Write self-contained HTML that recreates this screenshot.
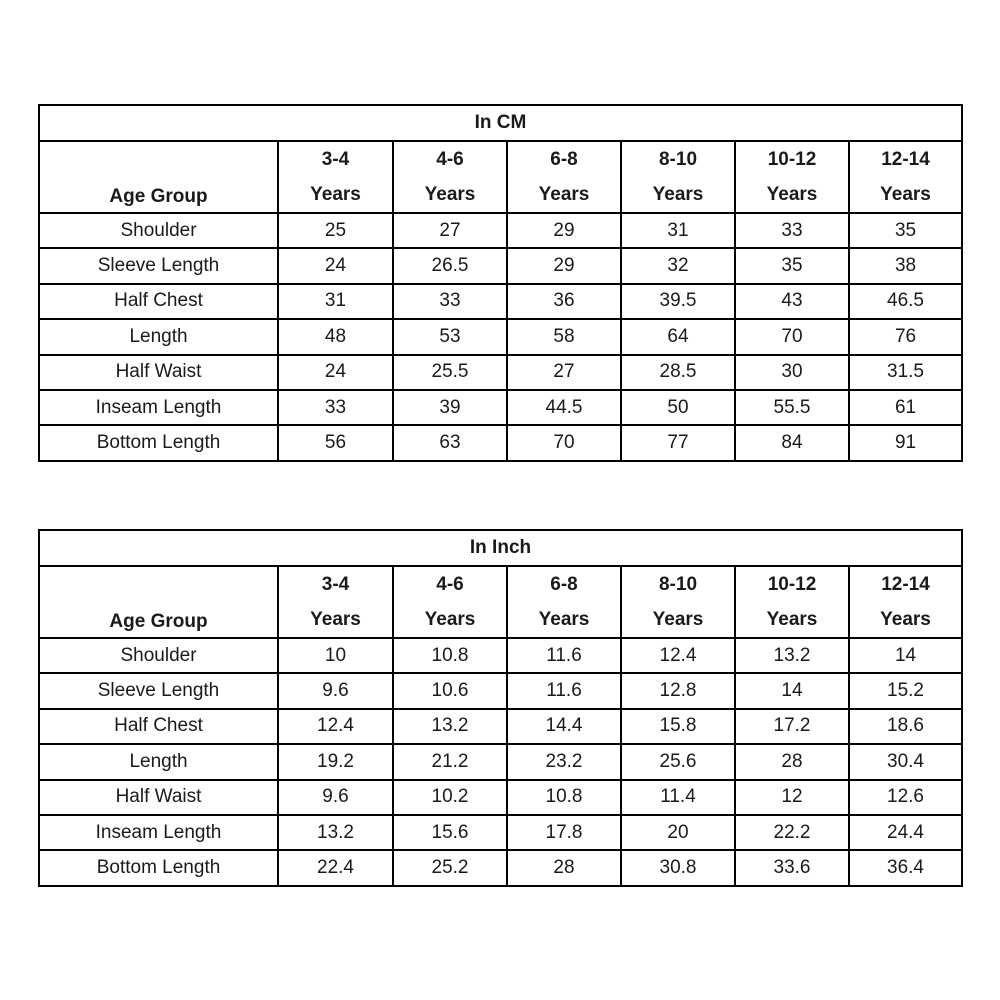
<!DOCTYPE html>
<html><head><style>
body{margin:0;width:1000px;height:1000px;background:#fff;position:relative;font-family:"Liberation Sans",sans-serif;color:#1a1a1a}
table{position:absolute;left:38px;border-collapse:collapse;table-layout:fixed;width:923px}
td{border:2px solid #000;text-align:center;padding:0;font-size:19px;height:33.4px;line-height:20px}
tr.t td{height:34px;font-weight:bold}
tr.h td{height:66px;font-weight:bold;line-height:35px}
tr.h td:first-child{vertical-align:bottom;line-height:30px}
</style></head><body>
<table style="top:104px">
<colgroup><col style="width:239px"><col style="width:115px"><col style="width:114px"><col style="width:114px"><col style="width:114px"><col style="width:114px"><col style="width:113px"></colgroup>
<tr class="t"><td colspan="7">In CM</td></tr>
<tr class="h"><td>Age Group</td><td>3-4<br>Years</td><td>4-6<br>Years</td><td>6-8<br>Years</td><td>8-10<br>Years</td><td>10-12<br>Years</td><td>12-14<br>Years</td></tr>
<tr><td>Shoulder</td><td>25</td><td>27</td><td>29</td><td>31</td><td>33</td><td>35</td></tr>
<tr><td>Sleeve Length</td><td>24</td><td>26.5</td><td>29</td><td>32</td><td>35</td><td>38</td></tr>
<tr><td>Half Chest</td><td>31</td><td>33</td><td>36</td><td>39.5</td><td>43</td><td>46.5</td></tr>
<tr><td>Length</td><td>48</td><td>53</td><td>58</td><td>64</td><td>70</td><td>76</td></tr>
<tr><td>Half Waist</td><td>24</td><td>25.5</td><td>27</td><td>28.5</td><td>30</td><td>31.5</td></tr>
<tr><td>Inseam Length</td><td>33</td><td>39</td><td>44.5</td><td>50</td><td>55.5</td><td>61</td></tr>
<tr><td>Bottom Length</td><td>56</td><td>63</td><td>70</td><td>77</td><td>84</td><td>91</td></tr>
</table>
<table style="top:529px">
<colgroup><col style="width:239px"><col style="width:115px"><col style="width:114px"><col style="width:114px"><col style="width:114px"><col style="width:114px"><col style="width:113px"></colgroup>
<tr class="t"><td colspan="7">In Inch</td></tr>
<tr class="h"><td>Age Group</td><td>3-4<br>Years</td><td>4-6<br>Years</td><td>6-8<br>Years</td><td>8-10<br>Years</td><td>10-12<br>Years</td><td>12-14<br>Years</td></tr>
<tr><td>Shoulder</td><td>10</td><td>10.8</td><td>11.6</td><td>12.4</td><td>13.2</td><td>14</td></tr>
<tr><td>Sleeve Length</td><td>9.6</td><td>10.6</td><td>11.6</td><td>12.8</td><td>14</td><td>15.2</td></tr>
<tr><td>Half Chest</td><td>12.4</td><td>13.2</td><td>14.4</td><td>15.8</td><td>17.2</td><td>18.6</td></tr>
<tr><td>Length</td><td>19.2</td><td>21.2</td><td>23.2</td><td>25.6</td><td>28</td><td>30.4</td></tr>
<tr><td>Half Waist</td><td>9.6</td><td>10.2</td><td>10.8</td><td>11.4</td><td>12</td><td>12.6</td></tr>
<tr><td>Inseam Length</td><td>13.2</td><td>15.6</td><td>17.8</td><td>20</td><td>22.2</td><td>24.4</td></tr>
<tr><td>Bottom Length</td><td>22.4</td><td>25.2</td><td>28</td><td>30.8</td><td>33.6</td><td>36.4</td></tr>
</table>
</body></html>
